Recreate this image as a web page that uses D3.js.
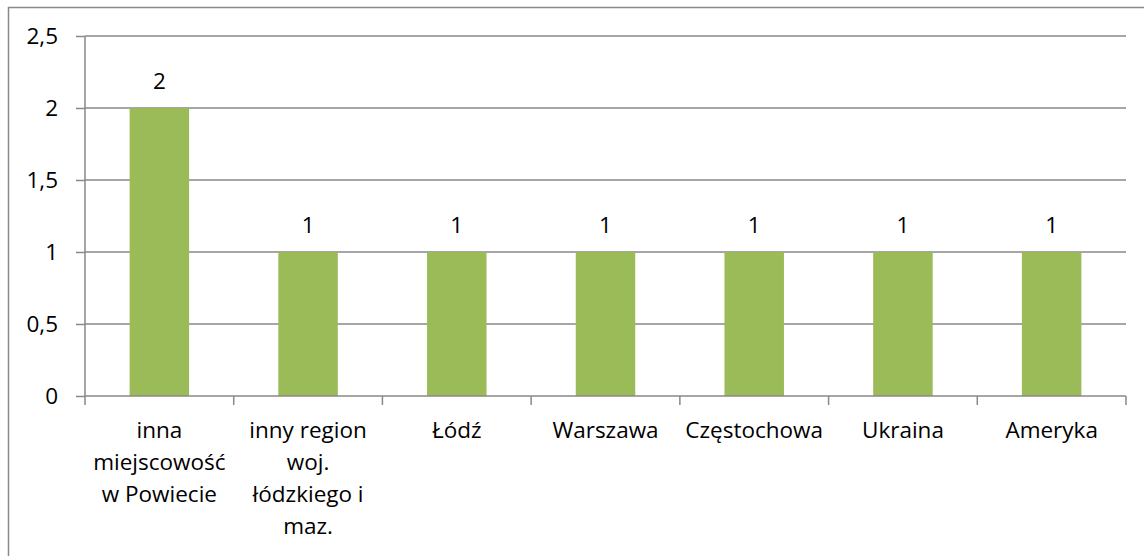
<!DOCTYPE html>
<html>
<head>
<meta charset="utf-8">
<script src="https://cdn.jsdelivr.net/npm/d3@7"></script>
<style>
  body { margin: 0; background: #fff; }
  svg text { font-family: "Open Sans", "Noto Sans", sans-serif; fill: #000; }
</style>
</head>
<body>
<div id="chart"></div>
<script>
// Data
const categories = [
    ["inna", "miejscowość", "w Powiecie"],
    ["inny region", "woj.", "łódzkiego i", "maz."],
    ["Łódź"],
    ["Warszawa"],
    ["Częstochowa"],
    ["Ukraina"],
    ["Ameryka"]
];
const values = [2, 1, 1, 1, 1, 1, 1];
const yTicks = [0, 0.5, 1, 1.5, 2, 2.5];

const BAR_COLOR = "#9bbb59";
const LINE_COLOR = "#898989";
const FONT_SIZE = 22.5;

const W = 1144, H = 556;
const margin = {left: 85, top: 36, right: 18, bottom: 160};
const width = W - margin.left - margin.right;
const height = H - margin.top - margin.bottom;

let svg = d3.select("#chart")
    .append("svg")
    .attr("width", W)
    .attr("height", H);

// outer chart border (runs off the right and bottom of the picture)
svg.append("rect")
    .attr("x", 8.5)
    .attr("y", 7.5)
    .attr("width", W + 20)
    .attr("height", H + 20)
    .attr("fill", "none")
    .attr("stroke", LINE_COLOR)
    .attr("stroke-width", 1.5);

let chart = svg.append("g")
    .attr("transform", "translate(" + margin.left + ", " + margin.top + ")");

const labels = categories.map(function(c) { return c.join(" "); });

let x = d3.scaleBand()
    .domain(labels)
    .range([0, width])
    .paddingInner(0.6)
    .paddingOuter(0.3);

let y = d3.scaleLinear()
    .domain([0, 2.5])
    .range([height, 0]);

const fmt = function(d) { return String(d).replace(".", ","); };

// gridlines + y axis
let yAxis = chart.append("g")
    .call(d3.axisLeft(y).tickValues(yTicks).tickSize(9).tickFormat(fmt));
yAxis.select(".domain").attr("stroke", LINE_COLOR).attr("stroke-width", 1.5)
    .attr("d", "M0," + height + "V0");
yAxis.selectAll(".tick line").attr("stroke", LINE_COLOR).attr("stroke-width", 1.5);
yAxis.selectAll(".tick text")
    .attr("x", -27)
    .attr("font-size", FONT_SIZE);

chart.append("g")
    .selectAll("line")
    .data(yTicks.filter(function(d) { return d > 0; }))
    .enter()
    .append("line")
    .attr("x1", 0)
    .attr("x2", width)
    .attr("y1", function(d) { return y(d); })
    .attr("y2", function(d) { return y(d); })
    .attr("stroke", LINE_COLOR)
    .attr("stroke-width", 1.5);

// bars
chart.append("g")
    .selectAll("rect")
    .data(values)
    .enter()
    .append("rect")
    .attr("x", function(d, i) { return x(labels[i]); })
    .attr("y", function(d) { return y(d); })
    .attr("width", x.bandwidth())
    .attr("height", function(d) { return height - y(d); })
    .attr("fill", BAR_COLOR);

// x axis with ticks between categories
let xAxis = chart.append("g")
    .attr("transform", "translate(0, " + height + ")");
xAxis.append("line")
    .attr("x1", 0).attr("x2", width)
    .attr("stroke", LINE_COLOR).attr("stroke-width", 1.5);
xAxis.selectAll(".sep")
    .data(d3.range(categories.length + 1))
    .enter()
    .append("line")
    .attr("class", "sep")
    .attr("x1", function(i) { return i * width / categories.length; })
    .attr("x2", function(i) { return i * width / categories.length; })
    .attr("y1", 0).attr("y2", 9)
    .attr("stroke", LINE_COLOR).attr("stroke-width", 1.5);

// category labels
let catText = xAxis.selectAll(".cat")
    .data(categories)
    .enter()
    .append("text")
    .attr("class", "cat")
    .attr("text-anchor", "middle")
    .attr("font-size", FONT_SIZE)
    .attr("transform", function(d, i) {
        return "translate(" + (x(labels[i]) + x.bandwidth() / 2) + ", 42)";
    });
catText.selectAll("tspan")
    .data(function(d) { return d; })
    .enter()
    .append("tspan")
    .attr("x", 0)
    .attr("dy", function(d, i) { return i === 0 ? 0 : 32; })
    .text(function(d) { return d; });

// value labels
chart.append("g")
    .selectAll("text")
    .data(values)
    .enter()
    .append("text")
    .attr("x", function(d, i) { return x(labels[i]) + x.bandwidth() / 2; })
    .attr("y", function(d) { return y(d) - 19; })
    .attr("text-anchor", "middle")
    .attr("font-size", FONT_SIZE)
    .text(function(d) { return fmt(d); });
</script>
</body>
</html>
